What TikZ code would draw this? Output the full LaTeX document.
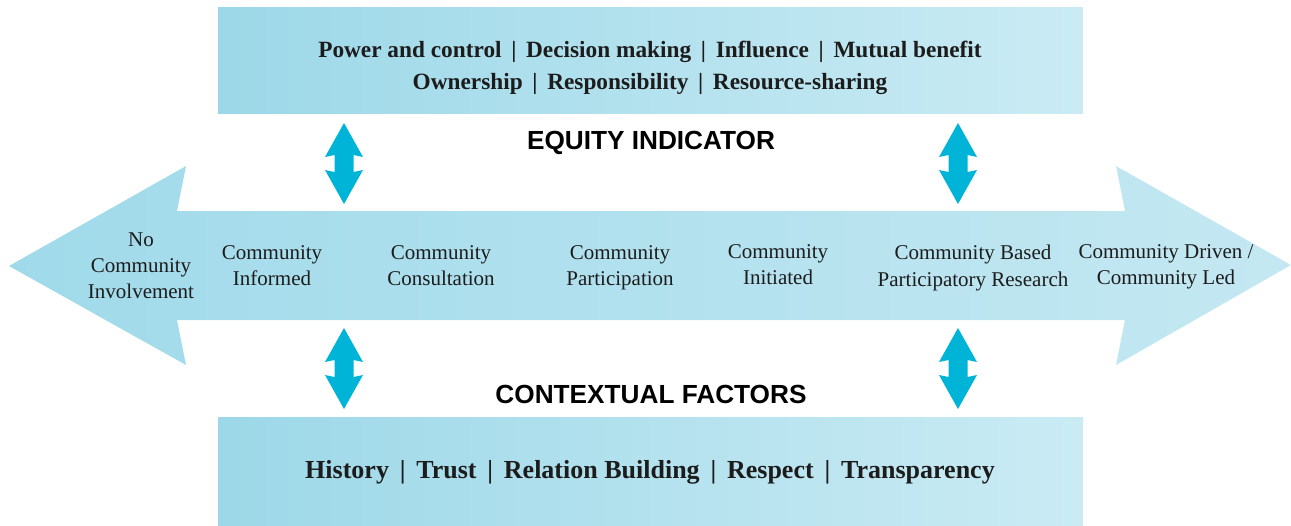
\documentclass[tikz,border=0pt]{standalone}
\usepackage{fontspec}
\setmainfont{Liberation Serif}
\newfontfamily\headfont{Liberation Sans}
\usetikzlibrary{calc}

\definecolor{boxleft}{RGB}{157,216,232}
\definecolor{boxright}{RGB}{202,235,244}
\definecolor{arrowleft}{RGB}{160,218,234}
\definecolor{arrowright}{RGB}{196,232,242}
\definecolor{linkblue}{RGB}{0,180,216}
\definecolor{inkdark}{RGB}{28,28,28}

\tikzset{
  stage/.style={align=center, anchor=north, text=inkdark, inner sep=0pt, font=\fontsize{10.5}{13.2}\selectfont},
  factor/.style={align=center, text=inkdark, inner sep=0pt, font=\bfseries\fontsize{11.65}{16}\selectfont},
  heading/.style={text=black, inner sep=0pt, font=\headfont\bfseries\fontsize{13.1}{15}\selectfont},
}

\begin{document}
\begin{tikzpicture}[x=0.5pt, y=-0.5pt]
\useasboundingbox (0,0) rectangle (1291,525);

% -------------------------------------------------------
% 1. Shade the two factor boxes
% -------------------------------------------------------
\shade[left color=boxleft, right color=boxright] (218,7) rectangle (1083,113);
\shade[left color=boxleft, right color=boxright] (218,417) rectangle (1083,525);

% -------------------------------------------------------
% 2. Draw the spectrum (big double arrow)
% -------------------------------------------------------
\shade[left color=arrowleft, right color=arrowright]
  (9,266) -- (186,166) -- (177,211) -- (1125,211) -- (1116,166)
  -- (1291,265) -- (1116,365) -- (1125,320) -- (177,320) -- (186,365) -- cycle;

% -------------------------------------------------------
% 3. Draw the links (small double arrows)
% -------------------------------------------------------
% x = column, y = top tip
\foreach \x in {344,958} {
  \foreach \y in {123,328} {
    \begin{scope}[shift={(\x,\y)}]
      \fill[linkblue] (0,0) -- (19,34) -- (9.5,32) -- (9.5,49) -- (19,47)
        -- (0,81) -- (-19,47) -- (-9.5,49) -- (-9.5,32) -- (-19,34) -- cycle;
    \end{scope}
  }
}

% -------------------------------------------------------
% 4. Labels
% -------------------------------------------------------
\node[factor] (equitylist) at (650,68)
  {Power and control \,|\, Decision making \,|\, Influence \,|\, Mutual benefit\\
   Ownership \,|\, Responsibility \,|\, Resource-sharing};
\node[heading] (equity) at (651,143) {EQUITY INDICATOR};
\node[heading] (context) at (651,394) {CONTEXTUAL FACTORS};
\node[factor, font=\bfseries\fontsize{13}{15}\selectfont] (contextlist) at (650,472)
  {History \,|\, Trust \,|\, Relation Building \,|\, Respect \,|\, Transparency};

% Stages along the spectrum
\node[stage] (none) at (141,232) {No\\Community\\Involvement};
\node[stage] (informed) at (272,245) {Community\\Informed};
\node[stage] (consult) at (441,245) {Community\\Consultation};
\node[stage] (particip) at (620,245) {Community\\Participation};
\node[stage] (initiated) at (778,244) {Community\\Initiated};
\node[stage] (cbpr) at (973,245) {Community Based\\Participatory Research};
\node[stage] (led) at (1166,244) {Community Driven /\\Community Led};

\end{tikzpicture}
\end{document}
